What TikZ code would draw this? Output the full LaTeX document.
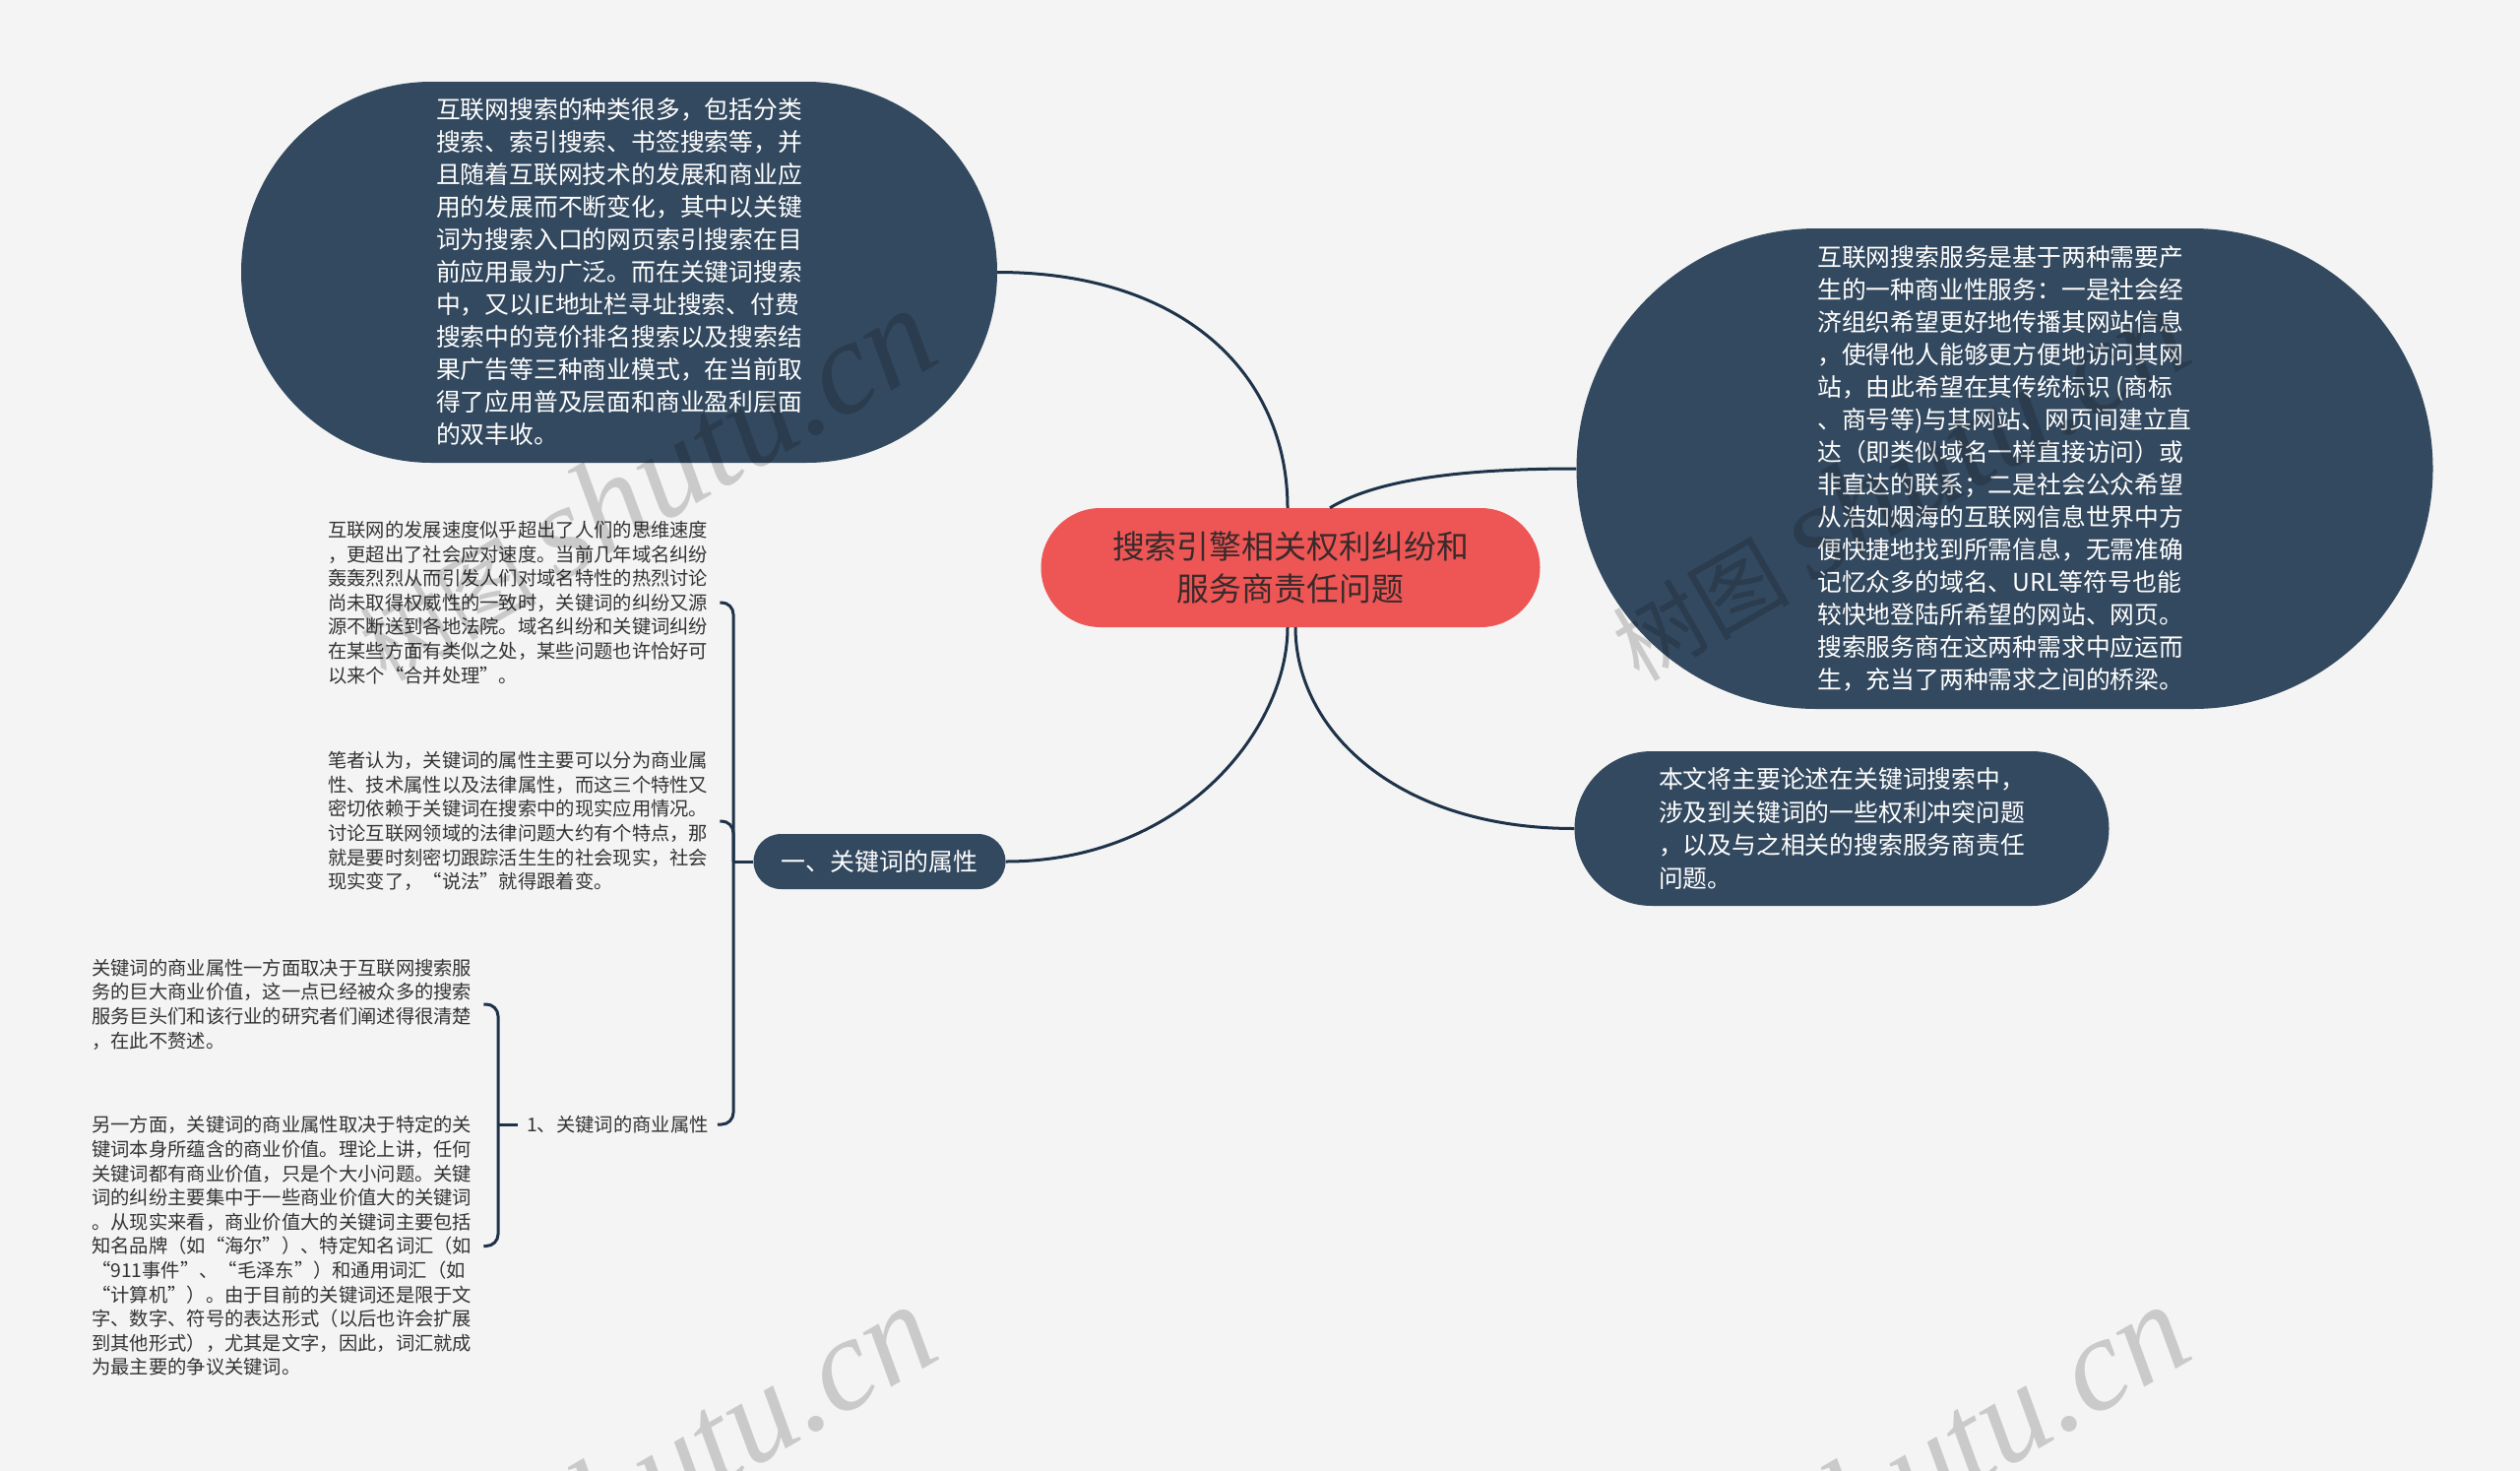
\documentclass[tikz,border=0pt]{standalone}
\usepackage{fontspec}
\setmainfont{Noto Sans CJK SC}
\newfontfamily\wmlatin{Liberation Serif}
\usetikzlibrary{calc}
\definecolor{bg}{HTML}{F4F4F4}
\definecolor{dark}{HTML}{33495F}
\definecolor{edge}{HTML}{1E3349}
\definecolor{rootred}{HTML}{EE5656}
\definecolor{roottext}{HTML}{3A2A2A}
\definecolor{smalltext}{HTML}{333333}
\tikzset{
  bubble/.style={fill=dark, draw=none, inner sep=0pt, text=white, align=left,
    font=\fontsize{24.8pt}{33pt}\selectfont},
  smalltxt/.style={text=smalltext, align=left, inner xsep=12pt, inner ysep=0pt,
    font=\fontsize{19.3pt}{24.6pt}\selectfont},
  conn/.style={draw=edge, line width=3pt},
  wm/.style={opacity=0.17, text=black, rotate=30, anchor=base west, inner sep=0pt}
}
\newcommand{\wmtext}{{\fontsize{90pt}{90pt}\selectfont 树图}\hspace{22pt}{\wmlatin\itshape\fontsize{135pt}{135pt}\selectfont shutu.cn}}
\begin{document}
\begin{tikzpicture}[x=1pt,y=-1pt]
\useasboundingbox (0,0) rectangle (2560,1494);
\fill[bg] (0,0) rectangle (2560,1494);

% root
\node[fill=rootred, draw=none, inner sep=0pt, minimum width=507pt, minimum height=121pt,
  rounded corners=60.5pt, text=roottext, align=center,
  font=\fontsize{32.9pt}{43pt}\selectfont] (root) at (1311,576.5)
  {搜索引擎相关权利纠纷和\\服务商责任问题};

% top-left bubble
\node[bubble, minimum width=768pt, minimum height=387pt, rounded corners=193.5pt] (tl) at (629,276.5)
{互联网搜索的种类很多，包括分类\\
搜索、索引搜索、书签搜索等，并\\
且随着互联网技术的发展和商业应\\
用的发展而不断变化，其中以关键\\
词为搜索入口的网页索引搜索在目\\
前应用最为广泛。而在关键词搜索\\
中，又以IE地址栏寻址搜索、付费\\
搜索中的竞价排名搜索以及搜索结\\
果广告等三种商业模式，在当前取\\
得了应用普及层面和商业盈利层面\\
的双丰收。};

% right bubble
\node[bubble, minimum width=870pt, minimum height=488pt, rounded corners=244pt] (rt) at (2036.5,476)
{互联网搜索服务是基于两种需要产\\
生的一种商业性服务：一是社会经\\
济组织希望更好地传播其网站信息\\
，使得他人能够更方便地访问其网\\
站，由此希望在其传统标识 (商标\\
、商号等)与其网站、网页间建立直\\
达（即类似域名一样直接访问）或\\
非直达的联系；二是社会公众希望\\
从浩如烟海的互联网信息世界中方\\
便快捷地找到所需信息，无需准确\\
记忆众多的域名、URL等符号也能\\
较快地登陆所希望的网站、网页。\\
搜索服务商在这两种需求中应运而\\
生，充当了两种需求之间的桥梁。};

% bottom-right bubble
\node[bubble, minimum width=543pt, minimum height=157pt, rounded corners=78.5pt,
  font=\fontsize{24.8pt}{33.5pt}\selectfont] (br) at (1871,841.5)
{本文将主要论述在关键词搜索中，\\
涉及到关键词的一些权利冲突问题\\
，以及与之相关的搜索服务商责任\\
问题。};

% first-level left node
\node[bubble, align=center, minimum width=256pt, minimum height=56pt, rounded corners=28pt,
  font=\fontsize{24.9pt}{30pt}\selectfont] (k1) at (893.5,875) {一、关键词的属性};

% small texts
\node[smalltxt, anchor=west] (s1) at (321,612)
{互联网的发展速度似乎超出了人们的思维速度\\
，更超出了社会应对速度。当前几年域名纠纷\\
轰轰烈烈从而引发人们对域名特性的热烈讨论\\
尚未取得权威性的一致时，关键词的纠纷又源\\
源不断送到各地法院。域名纠纷和关键词纠纷\\
在某些方面有类似之处，某些问题也许恰好可\\
以来个“合并处理”。};

\node[smalltxt, anchor=west] (s2) at (321,834)
{笔者认为，关键词的属性主要可以分为商业属\\
性、技术属性以及法律属性，而这三个特性又\\
密切依赖于关键词在搜索中的现实应用情况。\\
讨论互联网领域的法律问题大约有个特点，那\\
就是要时刻密切跟踪活生生的社会现实，社会\\
现实变了，“说法”就得跟着变。};

\node[smalltxt, inner xsep=9pt, anchor=west] (k2) at (526,1142) {1、关键词的商业属性};

\node[smalltxt, anchor=west] (s3) at (81,1020)
{关键词的商业属性一方面取决于互联网搜索服\\
务的巨大商业价值，这一点已经被众多的搜索\\
服务巨头们和该行业的研究者们阐述得很清楚\\
，在此不赘述。};

\node[smalltxt, anchor=west] (s4) at (81,1265.5)
{另一方面，关键词的商业属性取决于特定的关\\
键词本身所蕴含的商业价值。理论上讲，任何\\
关键词都有商业价值，只是个大小问题。关键\\
词的纠纷主要集中于一些商业价值大的关键词\\
。从现实来看，商业价值大的关键词主要包括\\
知名品牌（如“海尔”）、特定知名词汇（如\\
“911事件”、“毛泽东”）和通用词汇（如\\
“计算机”）。由于目前的关键词还是限于文\\
字、数字、符号的表达形式（以后也许会扩展\\
到其他形式），尤其是文字，因此，词汇就成\\
为最主要的争议关键词。};

% connectors from root
\draw[conn] (tl.east) .. controls +(190,0) and +(0,-135) .. ([xshift=-3pt]root.north);
\draw[conn] ([xshift=40pt]root.north) .. controls +(43,-26) and +(-130,0) .. (rt.west);
\draw[conn] ([xshift=5pt]root.south) .. controls +(0,103) and +(-182,0) .. (br.west);
\draw[conn] ([xshift=-3pt]root.south) .. controls +(0,103) and +(180,0) .. (k1.east);

% bracket group 1
\coordinate (j1) at (745,875);
\draw[conn] (k1.west) -- (j1);
\draw[conn, rounded corners=12pt] (j1) |- (s1.east);
\draw[conn, rounded corners=12pt] (j1) |- (s2.east);
\draw[conn, rounded corners=12pt] (j1) |- (k2.east);

% bracket group 2
\coordinate (j2) at (506,1142);
\draw[conn] (k2.west) -- (j2);
\draw[conn, rounded corners=12pt] (j2) |- (s3.east);
\draw[conn, rounded corners=12pt] (j2) |- (s4.east);

% watermarks
\begin{scope}
\clip (0,0) rectangle (2560,1494);
\node[wm] (wm1) at (392,694) {\wmtext};
\node[wm] (wm2) at (1665,694) {\wmtext};
\node[wm] (wm3) at (392,1706) {\wmtext};
\node[wm] (wm4) at (1665,1706) {\wmtext};
\end{scope}
\end{tikzpicture}
\end{document}
